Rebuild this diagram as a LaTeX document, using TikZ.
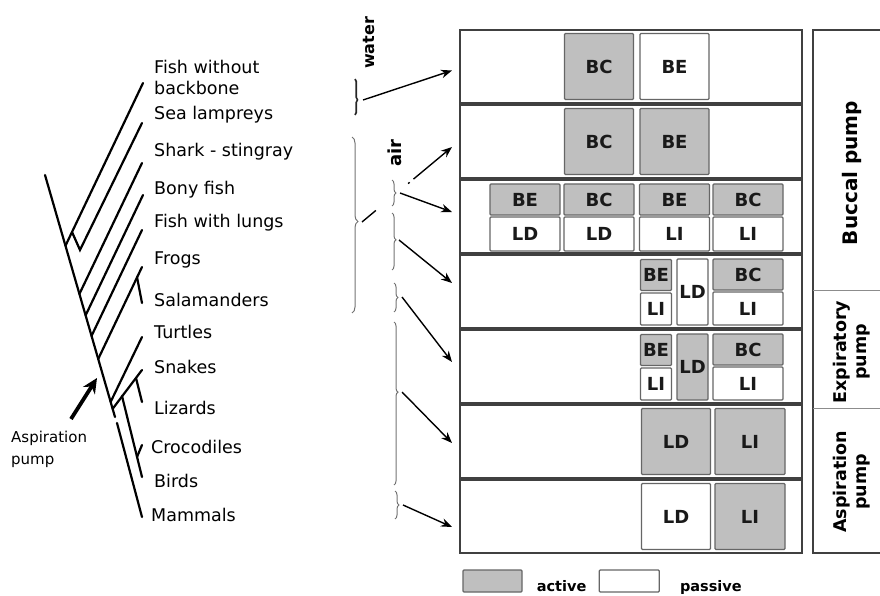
\documentclass[tikz,border=0pt]{standalone}
\usepackage{fontspec}
\setmainfont{DejaVu Sans}
\usetikzlibrary{positioning,calc,arrows.meta,decorations.pathreplacing}

\begin{document}
\begin{tikzpicture}[
  x=1pt, y=-1pt,
  taxon/.style={anchor=west, inner sep=0pt, align=left, font=\fontsize{17.5}{21}\selectfont},
  row/.style={rectangle, draw=black!75, line width=1.8pt, minimum width=342pt, minimum height=73pt, outer sep=0pt, inner sep=0pt},
  cell/.style={rectangle, draw=black!60, line width=1.2pt, rounded corners=1pt, inner sep=0pt, text=black!90, font=\fontsize{18}{18}\selectfont\bfseries},
  act/.style={cell, fill=gray!50},
  pas/.style={cell, fill=white},
  big/.style={minimum width=69pt, minimum height=66pt},
  wide/.style={minimum width=70pt},
  slim/.style={minimum width=31pt},
  grp/.style={draw=black!55, line width=1pt, decorate, decoration={brace, amplitude=4pt}},
  arrow/.style={-{Stealth[length=11pt,width=8.5pt]}, line width=1.4pt},
  tree/.style={line width=2.2pt, line cap=round},
  pump/.style={rotate=90, align=center, inner sep=0pt, font=\fontsize{17.5}{20}\selectfont\bfseries},
  medium/.style={rotate=90, inner sep=0pt, font=\fontsize{16}{16}\selectfont\bfseries},
  legend/.style={inner sep=0pt, font=\fontsize{14.5}{14.5}\selectfont\bfseries}
]
  \useasboundingbox (0,0) rectangle (880,596);

  % cladogram
  \draw[tree] (45,175) -- (115,417);
  \draw[tree] (143,83) -- (65.5,245.7);
  \draw[tree] (142,123) -- (80,250) -- (72,232);
  \foreach \tx/\ty/\fx/\fy in {142/163/79.4/294, 143/195/85.6/315.4, 142/230/91.5/336, 142/267/98.2/359, 142/337/110.6/402}
    \draw[tree] (\tx,\ty) -- (\fx,\fy);
  \draw[tree] (137,277) -- (142,303);
  \draw[tree] (142,370) -- (112.5,409);
  \draw[tree] (122,396) -- (142,477);
  \draw[tree] (136,378) -- (142,402);
  \draw[tree] (137,457) -- (142,445);
  \draw[tree] (117,423) -- (142,517);

  \node[taxon] (fwb) at (154,77.5) {Fish without\\backbone};
  \node[taxon] (lamprey) at (154,115) {Sea lampreys};
  \node[taxon] (shark) at (154,152) {Shark - stingray};
  \node[taxon] (bony) at (154,190) {Bony fish};
  \node[taxon] (lungs) at (154,223) {Fish with lungs};
  \node[taxon] (frogs) at (154,260) {Frogs};
  \node[taxon] (salam) at (154,300) {Salamanders};
  \node[taxon] (turtles) at (154,332) {Turtles};
  \node[taxon] (snakes) at (154,367) {Snakes};
  \node[taxon] (lizards) at (154,408) {Lizards};
  \node[taxon] (crocs) at (151,447) {Crocodiles};
  \node[taxon] (birds) at (154,481) {Birds};
  \node[taxon] (mammals) at (151,515) {Mammals};

  \node[taxon, font=\fontsize{15}{22}\selectfont] (asp) at (11,449) {Aspiration\\pump};
  \coordinate (atail) at (71,419);
  \coordinate (ahead) at (97,378);
  \draw[-{Stealth[length=15pt,width=14pt]}, line width=3.8pt] (atail) -- (ahead);

  % rows
  \node[row] (r1) at (631,66.5) {};
  \node[row, below=2pt of r1] (r2) {};
  \node[row, below=2pt of r2] (r3) {};
  \node[row, below=2pt of r3] (r4) {};
  \node[row, below=2pt of r4] (r5) {};
  \node[row, below=2pt of r5] (r6) {};
  \node[row, below=2pt of r6] (r7) {};

  \node[act, big] (c1a) at (599,66.5) {BC};
  \node[pas, big] (c1b) at (674.5,66.5) {BE};
  \node[act, big] (c2a) at (599,141.5) {BC};
  \node[act, big] (c2b) at (674.5,141.5) {BE};

  \foreach \x/\t/\b [count=\i] in {525/BE/LD, 599/BC/LD, 674.5/BE/LI, 748/BC/LI} {
    \node[act, wide, minimum height=31pt] (t3\i) at (\x,199.5) {\t};
    \node[pas, wide, minimum height=34pt] (b3\i) at (\x,234) {\b};
  }

  \foreach \r/\dy/\fc in {4/0/white, 5/75/gray!50} {
    \node[act, slim, minimum height=31pt] (be\r) at (656,275+\dy) {BE};
    \node[pas, slim, minimum height=32pt] (li\r) at (656,309+\dy) {LI};
    \node[cell, slim, fill=\fc, minimum height=66pt] (ld\r) at (692.5,292+\dy) {LD};
    \node[act, wide, minimum height=31pt] (bc\r) at (748,274.5+\dy) {BC};
    \node[pas, wide, minimum height=33pt] (lj\r) at (748,308.5+\dy) {LI};
  }

  \node[act, big] (c6a) at (676,441.5) {LD};
  \node[act, big, minimum width=70pt] (c6b) at (750,441.5) {LI};
  \node[pas, big] (c7a) at (676,516.5) {LD};
  \node[act, big, minimum width=70pt] (c7b) at (750,516.5) {LI};

  % pump panel
  \draw[black!75, line width=1.6pt] (880,30) -- (813,30) -- (813,553) -- (880,553);
  \draw[black!45, line width=1pt] (813,290) -- (880,290);
  \draw[black!45, line width=1pt] (813,408) -- (880,408);
  \node[pump, font=\fontsize{20}{20}\selectfont\bfseries] (buccal) at (852,173) {Buccal pump};
  \node[pump] (expir) at (852,352) {Expiratory\\pump};
  \node[pump] (aspir) at (852,482) {Aspiration\\pump};

  % groups
  \node[medium] (water) at (369,43) {water};
  \node[medium, font=\fontsize{18}{18}\selectfont\bfseries] (air) at (395,153) {air};
  \draw[grp, draw=black!85, line width=1.6pt, decoration={amplitude=2.5pt, aspect=0.58}] (355,79) -- (355,115);
  \draw[grp, decoration={amplitude=6pt, aspect=0.48}] (352,137) -- (352,313);
  \draw[grp] (392,180) -- (392,206);
  \draw[grp, decoration={aspect=0.47}] (392,213) -- (392,270);
  \draw[grp] (394,283) -- (394,312);
  \draw[grp, decoration={aspect=0.43}] (394,322) -- (394,485);
  \draw[grp] (395,491) -- (395,519);

  \coordinate (wtip) at (363,100);
  \coordinate (atip) at (362,222);
  \coordinate (g1) at (400,193);
  \coordinate (g2) at (399,240);
  \coordinate (g3) at (402,297);
  \coordinate (g4) at (402,392);
  \coordinate (g5) at (403,505);

  \draw[arrow] (wtip) -- ($(r1.west)+(-8,4)$);
  \draw[arrow, dash pattern=on 18pt off 42pt on 2pt off 5pt on 100pt] (atip) -- ($(r2.west)+(-8,5.5)$);
  \draw[arrow] (g1) -- ($(r3.west)+(-8,-4.5)$);
  \draw[arrow] (g2) -- ($(r4.west)+(-8,-8.5)$);
  \draw[arrow] (g3) -- ($(r5.west)+(-8,-4.5)$);
  \draw[arrow] (g4) -- ($(r6.west)+(-8,1.5)$);
  \draw[arrow] (g5) -- ($(r7.west)+(-8,10.5)$);

  % legend
  \node[act, minimum width=59pt, minimum height=22pt] (lact) at (492.5,581) {};
  \node[legend, right=14pt of lact, yshift=-5pt] (tact) {active};
  \node[pas, minimum width=60pt, minimum height=22pt, right=76pt of lact] (lpas) {};
  \node[legend, right=20pt of lpas, yshift=-6pt] (tpas) {passive};
\end{tikzpicture}
\end{document}
